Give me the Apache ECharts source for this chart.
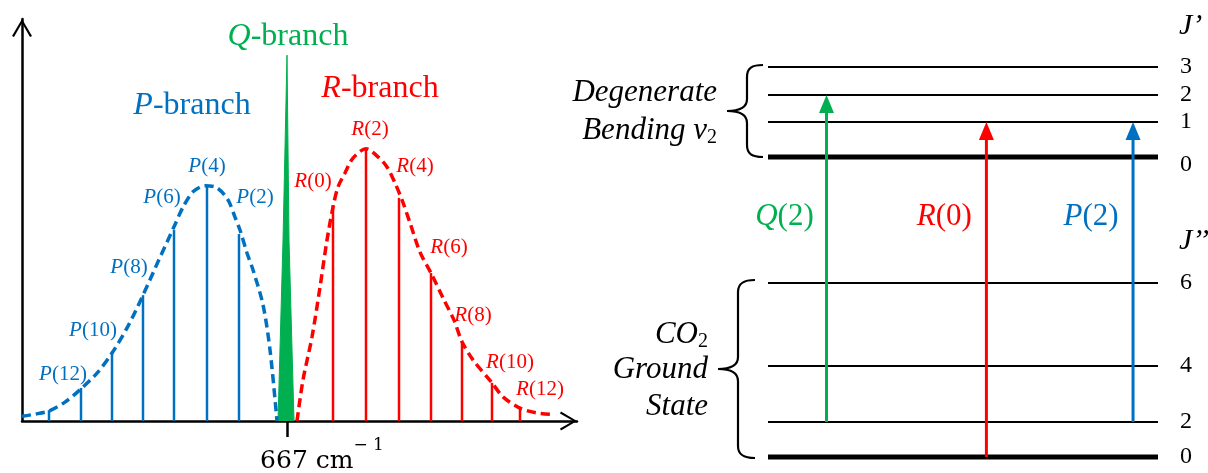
<!DOCTYPE html>
<html lang="en">
<head>
<meta charset="UTF-8">
<title>CO2 bending band: P, Q and R branches</title>
<script src="https://cdn.jsdelivr.net/npm/echarts@6/dist/echarts.min.js"></script>
<style>
  html, body { margin: 0; padding: 0; background: #fff; }
  #chart { width: 1208px; height: 473px; }
</style>
</head>
<body>
<div id="chart"></div>
<script>
var BLUE = '#0070C0', GREEN = '#00B050', RED = '#FF0000', BLACK = '#000';
var SERIF = "'Liberation Serif', 'Times New Roman', serif";

// ---- spectrum (left panel), wavenumber in cm-1, intensity in arbitrary units ----
var bandCentre = 667;

var pJ = [2, 4, 6, 8, 10, 12, 14];
var pWavenumber = [664.6, 663.0, 661.35, 659.8, 658.25, 656.7, 655.1];
var pIntensity = [46.5, 58.5, 47.5, 31.3, 17.2, 8.2, 2.7];

var rJ = [0, 2, 4, 6, 8, 10, 12];
var rWavenumber = [669.3, 670.95, 672.6, 674.2, 675.75, 677.25, 678.65];
var rIntensity = [53.7, 67.7, 55.5, 36.8, 19.7, 9.5, 3.2];

var qWavenumber = [666.55, 666.8, 667.0, 667.1, 667.35];
var qIntensity = [0, 45, 91, 45, 0];

var pEnvWavenumber = [653.75, 654.4, 655.1, 655.9, 656.7, 657.5, 658.25, 659.05, 659.8, 660.55, 661.35, 661.8,
  662.3, 662.9, 663.5, 664.05, 664.4, 664.65, 665.0, 665.3, 665.8, 666.15, 666.5];
var pEnvIntensity = [1.2, 1.7, 2.5, 4.7, 8.0, 11.9, 16.9, 23.6, 31.3, 39.6, 48.3, 53.2,
  57.0, 58.5, 58.0, 55.0, 50.7, 47.5, 41.8, 37.6, 28.9, 17.7, 0];

var rEnvWavenumber = [667.5, 667.8, 668.25, 668.65, 669.0, 669.3, 669.55, 669.9, 670.3, 670.95, 671.55, 672.0, 672.4,
  672.75, 673.15, 673.65, 674.2, 674.8, 675.35, 675.75, 676.3, 677.25, 677.8, 678.65, 679.5, 680.15];
var rEnvIntensity = [0, 10.2, 20.9, 33.3, 45.0, 53.2, 58.2, 61.7, 65.4, 67.7, 65.7, 63.2, 59.2,
  55.0, 49.3, 42.0, 36.8, 30.6, 25.1, 19.7, 15.2, 9.5, 6.0, 3.2, 2.0, 1.7];

// ---- energy levels (right panel), arbitrary energy units ----
var upperJ = [0, 1, 2, 3];
var upperEnergy = [75, 83.75, 90.5, 97.5];
var lowerJ = [0, 2, 4, 6];
var lowerEnergy = [0, 8.75, 22.75, 43.5];

var transitionName = ['Q(2)', 'R(0)', 'P(2)'];
var transitionFromJ = [2, 0, 2];
var transitionToJ = [2, 1, 1];
var transitionPos = [15, 56, 93.6];

// label placement (pixels from stick top), kept apart from the data
var pLabelOffset = [[16, -37], [0, -19], [-12, -33], [-14, -28], [-19, -21], [-18, -14], null];
var rLabelOffset = [[-20, -24], [4, -19], [16, -31], [18, -26], [11, -26], [18, -20], [20, -19]];
var transitionColor = [GREEN, RED, BLUE];

function font(size, color, italic) {
  return { fontFamily: SERIF, fontSize: size, fontStyle: italic ? 'italic' : 'normal', fill: color };
}
function varText(letter, rest, size, color) {
  return { text: '{i|' + letter + '}{n|' + rest + '}', rich: { i: font(size, color, true), n: font(size, color, false) } };
}

function stickRenderer(color, letter, js, offsets) {
  return function (params, api) {
    var x = api.value(0), h = api.value(1);
    var top = api.coord([x, h]);
    var base = api.coord([x, 0]);
    var kids = [{
      type: 'line',
      shape: { x1: base[0], y1: base[1], x2: top[0], y2: top[1] },
      style: { stroke: color, lineWidth: 2.5 }
    }];
    var off = offsets[params.dataIndex];
    if (off) {
      var st = varText(letter, '(' + js[params.dataIndex] + ')', 21, color);
      st.align = 'center';
      st.verticalAlign = 'middle';
      kids.push({ type: 'text', x: top[0] + off[0], y: top[1] + off[1], style: st });
    }
    return { type: 'group', children: kids };
  };
}

var CHEVRON = 'path://M0,17 L10,0 L20,17 L18,18 L10,4 L2,18 Z';

var levelData = upperJ.map(function (j, i) { return [0, upperEnergy[i], j, 1]; })
  .concat(lowerJ.map(function (j, i) { return [0, lowerEnergy[i], j, 0]; }));

var transitionData = transitionName.map(function (n, i) {
  return [transitionPos[i], lowerEnergy[lowerJ.indexOf(transitionFromJ[i])], upperEnergy[upperJ.indexOf(transitionToJ[i])]];
});

// curly brace opening to the right, drawn from bezier pieces
function brace(xEnd, xSpine, xTip, yTop, yBot) {
  var ym = (yTop + yBot) / 2;
  var st = { stroke: BLACK, lineWidth: 2.2, fill: null };
  function bz(x1, y1, c1x, c1y, c2x, c2y, x2, y2) {
    return { type: 'bezierCurve', shape: { x1: x1, y1: y1, cpx1: c1x, cpy1: c1y, cpx2: c2x, cpy2: c2y, x2: x2, y2: y2 }, style: st };
  }
  function ln(x1, y1, x2, y2) {
    return { type: 'line', shape: { x1: x1, y1: y1, x2: x2, y2: y2 }, style: st };
  }
  return {
    type: 'group',
    children: [
      bz(xEnd, yTop, xEnd - 11, yTop, xSpine, yTop + 3, xSpine, yTop + 12),
      ln(xSpine, yTop + 12, xSpine, ym - 12),
      bz(xSpine, ym - 12, xSpine, ym - 4, xSpine - 7, ym, xTip, ym),
      bz(xTip, ym, xSpine - 7, ym, xSpine, ym + 4, xSpine, ym + 12),
      ln(xSpine, ym + 12, xSpine, yBot - 12),
      bz(xSpine, yBot - 12, xSpine, yBot - 3, xEnd - 11, yBot, xEnd, yBot)
    ]
  };
}

function gText(x, y, style, align) {
  style.align = align || 'center';
  style.verticalAlign = 'middle';
  return { type: 'text', x: x, y: y, style: style };
}

var chart = echarts.init(document.getElementById('chart'));

var option = {
  animation: false,
  grid: [
    { left: 22, top: 19, width: 555, height: 402, outerBoundsMode: 'none' },
    { left: 768, top: 57, width: 390, height: 400, outerBoundsMode: 'none' }
  ],
  xAxis: [
    {
      gridIndex: 0, type: 'value', min: 653.75, max: 681.5,
      axisLine: {
        show: true, onZero: false, symbol: ['none', CHEVRON], symbolSize: [20, 17], symbolOffset: [0, -8.5],
        lineStyle: { color: BLACK, width: 2.5 }
      },
      axisTick: { show: true, customValues: [bandCentre], length: 16, lineStyle: { color: BLACK, width: 2.5 } },
      axisLabel: {
        show: true, customValues: [bandCentre], margin: 16, padding: [0, 0, 0, 70],
        formatter: function (v) { return '{n|' + v + ' cm}{s|\u2212 1}'; },
        rich: {
          n: { fontFamily: 'DejaVu Serif', fontSize: 25, lineHeight: 48, color: BLACK },
          s: { fontFamily: 'DejaVu Serif', fontSize: 17, lineHeight: 17, verticalAlign: 'top', color: BLACK }
        }
      },
      splitLine: { show: false }
    },
    { gridIndex: 1, type: 'value', min: 0, max: 100, show: false }
  ],
  yAxis: [
    {
      gridIndex: 0, type: 'value', min: 0, max: 100,
      axisLine: {
        show: true, onZero: false, symbol: ['none', CHEVRON], symbolSize: [20, 18], symbolOffset: [0, -9],
        lineStyle: { color: BLACK, width: 2.5 }
      },
      axisTick: { show: false }, axisLabel: { show: false }, splitLine: { show: false }
    },
    { gridIndex: 1, type: 'value', min: 0, max: 100, show: false }
  ],
  series: [
    {
      type: 'custom', name: 'P sticks', xAxisIndex: 0, yAxisIndex: 0,
      data: pWavenumber.map(function (x, i) { return [x, pIntensity[i]]; }),
      renderItem: stickRenderer(BLUE, 'P', pJ, pLabelOffset)
    },
    {
      type: 'custom', name: 'R sticks', xAxisIndex: 0, yAxisIndex: 0,
      data: rWavenumber.map(function (x, i) { return [x, rIntensity[i]]; }),
      renderItem: stickRenderer(RED, 'R', rJ, rLabelOffset)
    },
    {
      type: 'line', name: 'Q branch', xAxisIndex: 0, yAxisIndex: 0, symbol: 'none',
      data: qWavenumber.map(function (x, i) { return [x, qIntensity[i]]; }),
      lineStyle: { color: GREEN, width: 1 },
      areaStyle: { color: GREEN, opacity: 1 }
    },
    {
      type: 'line', name: 'P envelope', xAxisIndex: 0, yAxisIndex: 0, symbol: 'none', smooth: 0.3,
      data: pEnvWavenumber.map(function (x, i) { return [x, pEnvIntensity[i]]; }),
      lineStyle: { color: BLUE, width: 3.5, type: [9, 5] }
    },
    {
      type: 'line', name: 'R envelope', xAxisIndex: 0, yAxisIndex: 0, symbol: 'none', smooth: 0.3,
      data: rEnvWavenumber.map(function (x, i) { return [x, rEnvIntensity[i]]; }),
      lineStyle: { color: RED, width: 3.5, type: [9, 5] }
    },
    {
      type: 'custom', name: 'levels', xAxisIndex: 1, yAxisIndex: 1,
      data: levelData,
      renderItem: function (params, api) {
        var e = api.value(1), j = api.value(2), upper = api.value(3);
        var a = api.coord([0, e]), b = api.coord([100, e]);
        var st = font(24, BLACK, false);
        st.text = String(j);
        return {
          type: 'group',
          children: [
            { type: 'line', shape: { x1: a[0], y1: a[1], x2: b[0], y2: b[1] }, style: { stroke: BLACK, lineWidth: j === 0 ? 5 : 2 } },
            gText(b[0] + 22, b[1] + (upper && j === 0 ? 8 : 0), st, 'left')
          ]
        };
      }
    },
    {
      type: 'custom', name: 'transitions', xAxisIndex: 1, yAxisIndex: 1,
      data: transitionData,
      renderItem: function (params, api) {
        var i = params.dataIndex;
        var x = api.value(0);
        var p0 = api.coord([x, api.value(1)]);
        var p1 = api.coord([x, api.value(2)]);
        var c = transitionColor[i];
        var name = transitionName[i];
        var st = varText(name.charAt(0), name.slice(1), 31, c);
        var labelY = api.coord([x, 60])[1];
        return {
          type: 'group',
          children: [
            { type: 'line', shape: { x1: p0[0], y1: p0[1], x2: p1[0], y2: p1[1] + 12 }, style: { stroke: c, lineWidth: 3 } },
            { type: 'polygon', shape: { points: [[p1[0] - 7.5, p1[1] + 18], [p1[0], p1[1]], [p1[0] + 7.5, p1[1] + 18]] }, style: { fill: c } },
            gText(p1[0] - 42, labelY, st)
          ]
        };
      }
    }
  ],
  graphic: [
    gText(288, 37, varText('Q', '-branch', 32, GREEN)),
    gText(192, 106, varText('P', '-branch', 32, BLUE)),
    gText(380, 89, varText('R', '-branch', 32, RED)),
    gText(717, 93, { text: 'Degenerate', font: 'italic 31px ' + SERIF, fill: BLACK }, 'right'),
    gText(717, 131, {
      text: '{i|Bending v}{s|2}',
      rich: {
        i: { fontFamily: SERIF, fontSize: 31, fontStyle: 'italic', fill: BLACK, lineHeight: 34 },
        s: { fontFamily: SERIF, fontSize: 20, fill: BLACK, lineHeight: 20, verticalAlign: 'bottom' }
      }
    }, 'right'),
    gText(708, 335, {
      text: '{i|CO}{s|2}',
      rich: {
        i: { fontFamily: SERIF, fontSize: 31, fontStyle: 'italic', fill: BLACK, lineHeight: 34 },
        s: { fontFamily: SERIF, fontSize: 20, fill: BLACK, lineHeight: 20, verticalAlign: 'bottom' }
      }
    }, 'right'),
    gText(708, 370, { text: 'Ground', font: 'italic 31px ' + SERIF, fill: BLACK }, 'right'),
    gText(708, 407, { text: 'State', font: 'italic 31px ' + SERIF, fill: BLACK }, 'right'),
    gText(1179, 26, { text: 'J\u2019', font: 'italic 30px ' + SERIF, fill: BLACK }, 'left'),
    gText(1179, 241, { text: 'J\u2019\u2019', font: 'italic 30px ' + SERIF, fill: BLACK }, 'left'),
    brace(763, 747, 727, 65, 157),
    brace(755, 738, 718, 280, 458)
  ]
};

chart.setOption(option);
</script>
</body>
</html>
